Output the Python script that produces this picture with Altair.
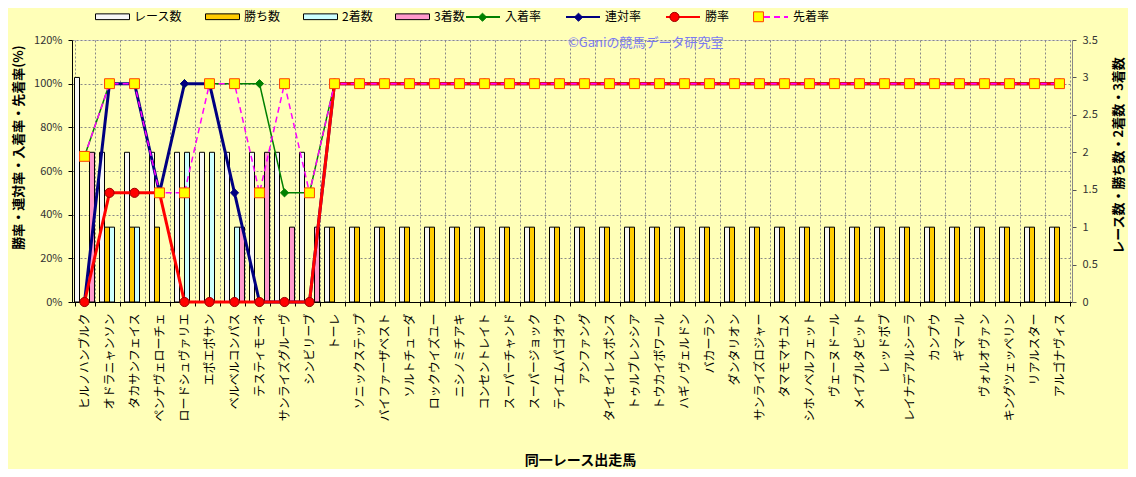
import altair as alt
import pandas as pd

horses = [
    "ヒルノハンブルク", "オドラニャンソン", "タカサンフェイス", "ペンナヴェローチェ", "ロードシュヴァリエ",
    "エポエポサン", "ベルベルコンパス", "テスティモーネ", "サンライズグルーヴ", "シンビリーブ",
    "トーレ", "ソニックステップ", "バイファーザベスト", "ソルトチューダ", "ロックウイズユー",
    "ニシノミチアキ", "コンセントレイト", "スーパーチャンド", "スーパージョック", "テイエムパゴオウ",
    "アンファング", "タイセイレスポンス", "トゥルブレンシア", "トウカイボワール", "ハギノヴェルドン",
    "バカーラン", "ダンタリオン", "サンライズロジャー", "タマモマサユメ", "シホノベルフェット",
    "ヴェーヌドール", "メイプルタピット", "レッドボブ", "レイナデアルシーラ", "カンプウ",
    "ギマール", "ヴォルオヴァン", "キングツェッペリン", "リアルスター", "アルゴナヴィス",
]

race_counts = [3, 2, 2, 2, 2, 2, 2, 2, 2, 2,
               1, 1, 1, 1, 1, 1, 1, 1, 1, 1,
               1, 1, 1, 1, 1, 1, 1, 1, 1, 1,
               1, 1, 1, 1, 1, 1, 1, 1, 1, 1]
win_counts = [0, 1, 1, 1, 0, 0, 0, 0, 0, 0,
              1, 1, 1, 1, 1, 1, 1, 1, 1, 1,
              1, 1, 1, 1, 1, 1, 1, 1, 1, 1,
              1, 1, 1, 1, 1, 1, 1, 1, 1, 1]
second_counts = [0, 1, 1, 0, 2, 2, 1, 0, 0, 0,
                 0, 0, 0, 0, 0, 0, 0, 0, 0, 0,
                 0, 0, 0, 0, 0, 0, 0, 0, 0, 0,
                 0, 0, 0, 0, 0, 0, 0, 0, 0, 0]
third_counts = [2, 0, 0, 0, 0, 0, 1, 2, 1, 1,
                0, 0, 0, 0, 0, 0, 0, 0, 0, 0,
                0, 0, 0, 0, 0, 0, 0, 0, 0, 0,
                0, 0, 0, 0, 0, 0, 0, 0, 0, 0]

nyuchaku_rate = [66.7, 100, 100, 50, 100, 100, 100, 100, 50, 50,
                 100, 100, 100, 100, 100, 100, 100, 100, 100, 100,
                 100, 100, 100, 100, 100, 100, 100, 100, 100, 100,
                 100, 100, 100, 100, 100, 100, 100, 100, 100, 100]
rentai_rate = [0, 100, 100, 50, 100, 100, 50, 0, 0, 0,
               100, 100, 100, 100, 100, 100, 100, 100, 100, 100,
               100, 100, 100, 100, 100, 100, 100, 100, 100, 100,
               100, 100, 100, 100, 100, 100, 100, 100, 100, 100]
win_rate = [0, 50, 50, 50, 0, 0, 0, 0, 0, 0,
            100, 100, 100, 100, 100, 100, 100, 100, 100, 100,
            100, 100, 100, 100, 100, 100, 100, 100, 100, 100,
            100, 100, 100, 100, 100, 100, 100, 100, 100, 100]
senchaku_rate = [66.7, 100, 100, 50, 50, 100, 100, 50, 100, 50,
                 100, 100, 100, 100, 100, 100, 100, 100, 100, 100,
                 100, 100, 100, 100, 100, 100, 100, 100, 100, 100,
                 100, 100, 100, 100, 100, 100, 100, 100, 100, 100]

bar_kinds = ["レース数", "勝ち数", "2着数", "3着数"]
bar_colors = ["#F7F7F7", "#FFCC00", "#CCFFFF", "#FF99CC"]
rate_names = ["入着率", "連対率", "勝率", "先着率"]
line_colors = ["#008000", "#000080", "#FF0000", "#FF00FF"]
line_widths = [1.5, 3, 3, 1.5]
line_dashes = [[1, 0], [1, 0], [1, 0], [6, 4]]
marker_fills = ["#008000", "#000080", "#FF0000", "#FFFF00"]
marker_strokes = ["#008000", "#000080", "#990000", "#FF4000"]
marker_paths = [
    "M0,-0.24L0.24,0L0,0.24L-0.24,0Z",
    "M0,-0.24L0.24,0L0,0.24L-0.24,0Z",
    "M-0.27,0A0.27,0.27,0,1,0,0.27,0A0.27,0.27,0,1,0,-0.27,0Z",
    "M-0.29,-0.29H0.29V0.29H-0.29Z",
]

# ---- tables ----
bar_rows = []
for kind, vals in zip(bar_kinds, [race_counts, win_counts, second_counts, third_counts]):
    for h, v in zip(horses, vals):
        if v > 0:
            bar_rows.append({"horse": h, "kind": kind, "value": v})
bar_df = pd.DataFrame(bar_rows)

rate_rows = []
for name, vals in zip(rate_names, [nyuchaku_rate, rentai_rate, win_rate, senchaku_rate]):
    for h, v in zip(horses, vals):
        rate_rows.append({"horse": h, "rate": name, "rate_m": name, "pct": v})
rate_df = pd.DataFrame(rate_rows)

FONT = "Noto Sans CJK JP"
SYM = 1156  # 34px symbol box

x_enc = alt.X(
    "horse:N", sort=horses,
    scale=alt.Scale(paddingInner=0.2, paddingOuter=0.1),
    axis=alt.Axis(
        title="同一レース出走馬", titleFontSize=14, titleFontWeight="bold", titleColor="#000000",
        titleX=508, titleY=158, titleBaseline="middle", titleAlign="center",
        labelAngle=270, labelFontSize=12, labelColor="#000000", labelPadding=7,
        tickBand="extent", ticks=True, tickSize=4, tickColor="#000000",
        domainColor="#000000", grid=True, gridColor="#888888", gridDash=[2, 2], gridWidth=1,
        labelFont=FONT, titleFont=FONT,
    ),
)

y_left = alt.Y(
    "pct:Q", scale=alt.Scale(domain=[0, 120], nice=False),
    axis=alt.Axis(
        orient="left", values=[0, 20, 40, 60, 80, 100, 120], labelExpr="datum.value + '%'",
        title="勝率・連対率・入着率・先着率(%)", titleFontSize=13, titleFontWeight="bold",
        titleColor="#000000", titleAngle=270, titleX=-54, titleY=107, titleBaseline="middle",
        titleAlign="center",
        labelFontSize=11, labelColor="#333333", labelPadding=6, tickSize=4, tickColor="#000000",
        domainColor="#000000", grid=True, gridColor="#888888", gridDash=[2, 2], gridWidth=1,
        labelFont=FONT, titleFont=FONT,
    ),
)

bars = alt.Chart(bar_df).mark_bar(stroke="#000000", strokeWidth=1).encode(
    x=x_enc,
    xOffset=alt.XOffset("kind:N", sort=bar_kinds, scale=alt.Scale(domain=bar_kinds, paddingInner=0, paddingOuter=0)),
    y=alt.Y(
        "value:Q", scale=alt.Scale(domain=[0, 3.5], nice=False),
        axis=alt.Axis(
            orient="right", values=[0, 0.5, 1, 1.5, 2, 2.5, 3, 3.5], format="~g", grid=False,
            title="レース数・勝ち数・2着数・3着数", titleFontSize=13, titleFontWeight="bold",
            titleColor="#000000", titleAngle=270, titleX=46, titleY=115, titleBaseline="middle",
            titleAlign="center",
            labelFontSize=11, labelColor="#333333", labelPadding=6, tickSize=4, tickColor="#555555",
            domainColor="#888888", labelFont=FONT, titleFont=FONT,
        ),
    ),
    fill=alt.Fill(
        "kind:N", sort=bar_kinds, scale=alt.Scale(domain=bar_kinds, range=bar_colors),
        legend=alt.Legend(
            orient="none", legendX=23, legendY=-41, direction="horizontal", columns=4,
            title=None, symbolType="M-1,-0.17H1V0.17H-1Z", symbolSize=SYM,
            symbolStrokeColor="#000000", symbolStrokeWidth=1, symbolOpacity=1,
            labelFontSize=12, labelFont=FONT, labelColor="#000000", labelOffset=4,
            columnPadding=20, padding=0,
        ),
    ),
)

line_legend = alt.Legend(
    orient="none", legendX=393, legendY=-41, direction="horizontal", columns=4,
    title=None, symbolType="stroke", symbolSize=SYM, symbolStrokeWidth=2,
    labelFontSize=12, labelFont=FONT, labelColor="#000000", labelOffset=4,
    columnPadding=20, padding=0,
)

lines = []
for name, w in zip(rate_names, line_widths):
    lines.append(
        alt.Chart(rate_df).transform_filter(alt.datum.rate == name)
        .mark_line(strokeWidth=w)
        .encode(
            x=x_enc,
            y=y_left,
            stroke=alt.Stroke("rate:N", scale=alt.Scale(domain=rate_names, range=line_colors), legend=line_legend),
            strokeDash=alt.StrokeDash("rate:N", scale=alt.Scale(domain=rate_names, range=line_dashes), legend=line_legend),
        )
    )
lines_group = alt.layer(*lines)

# marker legend overlays the line legend exactly; its own labels are hidden
point_legend = alt.Legend(
    orient="none", legendX=393, legendY=-41, direction="horizontal", columns=4,
    title=None, symbolSize=SYM, symbolStrokeWidth=1, symbolOpacity=1,
    labelFontSize=12, labelFont=FONT, labelColor="#000000", labelOffset=4, labelOpacity=0,
    columnPadding=20, padding=0,
)

points = alt.Chart(rate_df).mark_point(filled=True, size=SYM, opacity=1, strokeWidth=1).encode(
    x=x_enc,
    y=alt.Y("pct:Q", scale=alt.Scale(domain=[0, 120], nice=False), axis=None),
    fill=alt.Fill("rate_m:N", scale=alt.Scale(domain=rate_names, range=marker_fills), legend=point_legend),
    stroke=alt.Stroke("rate_m:N", scale=alt.Scale(domain=rate_names, range=marker_strokes), legend=point_legend),
    shape=alt.Shape("rate_m:N", scale=alt.Scale(domain=rate_names, range=marker_paths), legend=point_legend),
)

chart = (
    alt.layer(bars, lines_group, points)
    .resolve_scale(y="independent", fill="independent", stroke="independent",
                   shape="independent", strokeDash="independent")
    .properties(
        width=1000, height=262,
        autosize=alt.AutoSizeParams(type="none"),
        padding={"left": 64, "top": 32, "right": 56, "bottom": 167},
        background="#FFFFB8",
        title=alt.TitleParams(
            "©Ganiの競馬データ研究室", anchor="start", frame="group", dx=496, offset=0, dy=57,
            fontSize=13, fontWeight="normal", color="#7B7BF0", font=FONT, baseline="middle",
        ),
    )
    .configure_view(fill="#DCE8F6", stroke="#A0A0A0")
    .configure(font=FONT)
)

chart.save("out.html", embed_options={"renderer": "svg", "actions": False})
